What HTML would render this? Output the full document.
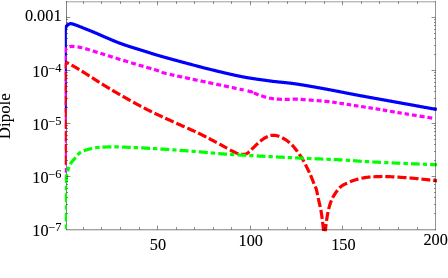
<!DOCTYPE html>
<html><head><meta charset="utf-8"><style>
html,body{margin:0;padding:0;background:#fff;}
body{width:448px;height:278px;overflow:hidden;}
svg{display:block}
text{font-family:"Liberation Serif",serif;fill:#fff;}
</style></head><body>
<svg width="448" height="278" viewBox="0 0 448 278">
<rect width="448" height="278" fill="#fff"/>
<defs><clipPath id="c"><rect x="64.8" y="1.5" width="372.5" height="229.7"/></clipPath></defs>
<path d="M66.5 1V230" stroke="#000" stroke-opacity="0.50" stroke-width="1" shape-rendering="crispEdges"/>
<g clip-path="url(#c)" fill="none" stroke-width="3.2" stroke-linejoin="round">
<path d="M65.15 112.00 L65.15 111.50 L65.15 111.00 L65.15 110.50 L65.15 110.00 L65.15 109.50 L65.15 109.00 L65.15 108.50 L65.15 108.00 L65.15 107.50 L65.15 107.00 L65.15 106.50 L65.15 106.00 L65.15 105.50 L65.15 105.00 L65.15 104.50 L65.15 104.00 L65.15 103.50 L65.15 103.00 L65.15 102.50 L65.15 102.00 L65.15 101.50 L65.15 101.00 L65.15 100.50 L65.15 100.00 L65.15 99.50 L65.15 99.00 L65.15 98.50 L65.15 98.00 L65.15 97.50 L65.15 97.00 L65.15 96.50 L65.15 96.00 L65.15 95.50 L65.15 95.00 L65.15 94.50 L65.15 94.00 L65.15 93.50 L65.15 93.00 L65.15 92.50 L65.15 92.00 L65.15 91.50 L65.15 91.00 L65.15 90.50 L65.15 90.00 L65.15 89.50 L65.15 89.00 L65.15 88.50 L65.15 88.00 L65.15 87.50 L65.15 87.00 L65.15 86.50 L65.15 86.00 L65.15 85.50 L65.15 85.00 L65.15 84.50 L65.15 84.00 L65.15 83.50 L65.15 83.00 L65.15 82.50 L65.15 82.00 L65.15 81.50 L65.15 81.00 L65.15 80.50 L65.15 80.00 L65.15 79.50 L65.15 79.00 L65.15 78.50 L65.15 78.00 L65.15 77.50 L65.15 77.00 L65.15 76.50 L65.15 76.00 L65.15 75.50 L65.15 75.00 L65.15 74.50 L65.15 74.00 L65.15 73.50 L65.15 73.00 L65.15 72.50 L65.15 72.00 L65.15 71.50 L65.15 71.00 L65.15 70.50 L65.15 70.00 L65.15 69.50 L65.15 69.00 L65.15 68.50 L65.15 68.00 L65.15 67.50 L65.15 67.00 L65.15 66.50 L65.15 66.00 L65.15 65.50 L65.15 65.00 L65.15 64.50 L65.15 64.00 L65.15 63.50 L65.15 63.00 L65.15 62.50 L65.15 62.00 L65.15 61.50 L65.15 61.00 L65.15 60.50 L65.15 60.00 L65.15 59.50 L65.15 59.00 L65.15 58.50 L65.15 58.00 L65.15 57.50 L65.15 57.00 L65.15 56.50 L65.15 56.00 L65.15 55.50 L65.15 55.00 L65.15 54.50 L65.15 54.00 L65.15 53.50 L65.15 53.00 L65.15 52.50 L65.15 52.00 L65.15 51.50 L65.15 51.00 L65.15 50.50 L65.15 50.00 L65.15 49.50 L65.15 49.00 L65.15 48.50 L65.15 48.00 L65.15 47.50 L65.15 47.00 L65.15 46.50 L65.15 46.00 L65.15 45.50 L65.15 45.00 L65.15 44.50 L65.15 44.00 L65.15 43.50 L65.15 43.00 L65.15 42.50 L65.15 42.00 L65.15 41.50 L65.15 41.00 L65.15 40.50 L65.15 40.00 L65.15 39.50 L65.15 39.00 L65.15 38.50 L65.15 38.00 L65.15 37.50 L65.15 37.00 L65.15 36.50 L65.15 36.00 L65.15 35.50 L65.15 35.00 L65.15 34.50 L65.15 34.00 L65.16 33.68 L65.18 33.26 L65.19 32.75 L65.21 32.19 L65.23 31.60 L65.26 31.02 L65.30 30.48 L65.35 30.00 L65.42 29.43 L65.51 28.88 L65.61 28.36 L65.72 27.87 L65.85 27.41 L66.00 27.00 L66.27 26.47 L66.58 26.04 L66.93 25.66 L67.30 25.30 L67.68 24.95 L68.09 24.62 L68.52 24.33 L69.00 24.10 L69.42 23.92 L69.85 23.77 L70.33 23.67 L70.94 23.66 L71.49 23.73 L71.89 23.81 L72.33 23.91 L72.80 24.04 L73.29 24.19 L73.81 24.35 L74.34 24.52 L74.88 24.71 L75.44 24.90 L76.00 25.10 L76.42 25.25 L76.82 25.40 L77.22 25.56 L77.62 25.71 L78.03 25.88 L78.45 26.05 L78.89 26.23 L79.36 26.42 L79.86 26.63 L80.41 26.86 L81.00 27.10 L81.65 27.36 L82.18 27.57 L82.55 27.72 L82.94 27.87 L83.35 28.03 L83.77 28.20 L84.20 28.37 L84.65 28.54 L85.10 28.72 L85.57 28.90 L86.04 29.09 L86.53 29.28 L87.02 29.47 L87.51 29.67 L88.01 29.87 L88.52 30.07 L89.03 30.27 L89.54 30.47 L90.05 30.67 L90.56 30.88 L91.07 31.08 L91.57 31.29 L92.08 31.49 L92.58 31.70 L93.07 31.90 L93.56 32.10 L94.03 32.29 L94.48 32.48 L94.93 32.68 L95.39 32.87 L95.84 33.06 L96.29 33.26 L96.75 33.46 L97.20 33.65 L97.66 33.85 L98.11 34.05 L98.57 34.25 L99.02 34.45 L99.48 34.65 L99.94 34.86 L100.40 35.06 L100.86 35.26 L101.32 35.47 L101.78 35.67 L102.25 35.87 L102.71 36.08 L103.18 36.28 L103.64 36.49 L104.11 36.69 L104.58 36.89 L105.05 37.10 L105.53 37.30 L106.00 37.50 L106.45 37.69 L106.90 37.89 L107.36 38.08 L107.82 38.28 L108.28 38.47 L108.74 38.67 L109.20 38.87 L109.67 39.07 L110.13 39.27 L110.60 39.47 L111.07 39.67 L111.54 39.87 L112.01 40.06 L112.47 40.26 L112.94 40.46 L113.41 40.66 L113.88 40.85 L114.35 41.05 L114.82 41.24 L115.29 41.43 L115.76 41.62 L116.23 41.81 L116.69 42.00 L117.16 42.19 L117.62 42.37 L118.08 42.55 L118.54 42.73 L119.00 42.90 L119.48 43.08 L119.96 43.26 L120.45 43.44 L120.93 43.61 L121.41 43.79 L121.88 43.96 L122.36 44.13 L122.84 44.29 L123.32 44.46 L123.79 44.63 L124.27 44.79 L124.74 44.95 L125.22 45.11 L125.69 45.27 L126.17 45.43 L126.64 45.58 L127.11 45.74 L127.59 45.90 L128.06 46.05 L128.53 46.21 L129.00 46.36 L129.48 46.51 L129.95 46.67 L130.42 46.82 L130.89 46.97 L131.36 47.12 L131.85 47.28 L132.34 47.44 L132.83 47.59 L133.32 47.75 L133.81 47.90 L134.30 48.05 L134.78 48.20 L135.27 48.35 L135.76 48.50 L136.25 48.65 L136.74 48.80 L137.23 48.95 L137.72 49.09 L138.20 49.24 L138.69 49.39 L139.18 49.53 L139.66 49.68 L140.15 49.82 L140.63 49.97 L141.11 50.12 L141.60 50.26 L142.08 50.41 L142.56 50.56 L143.04 50.70 L143.52 50.85 L144.00 51.00 L144.49 51.15 L144.97 51.31 L145.46 51.46 L145.94 51.61 L146.43 51.77 L146.91 51.92 L147.39 52.08 L147.87 52.23 L148.35 52.38 L148.83 52.54 L149.31 52.69 L149.79 52.85 L150.26 53.00 L150.74 53.16 L151.22 53.31 L151.70 53.46 L152.17 53.61 L152.65 53.77 L153.13 53.92 L153.61 54.07 L154.08 54.21 L154.56 54.36 L155.04 54.51 L155.52 54.66 L156.00 54.80 L156.48 54.94 L156.94 55.08 L157.38 55.21 L157.81 55.34 L158.23 55.46 L158.64 55.58 L159.04 55.70 L159.44 55.82 L159.84 55.93 L160.25 56.05 L160.65 56.16 L161.07 56.28 L161.50 56.40 L161.93 56.53 L162.39 56.65 L162.86 56.78 L163.35 56.92 L163.87 57.06 L164.42 57.22 L164.99 57.37 L165.59 57.54 L166.23 57.72 L166.91 57.90 L167.63 58.10 L168.18 58.25 L168.55 58.35 L168.92 58.45 L169.31 58.56 L169.70 58.67 L170.11 58.78 L170.52 58.89 L170.94 59.00 L171.36 59.12 L171.80 59.24 L172.24 59.36 L172.69 59.48 L173.14 59.61 L173.60 59.73 L174.07 59.86 L174.54 59.99 L175.02 60.12 L175.50 60.25 L175.99 60.38 L176.48 60.52 L176.98 60.65 L177.48 60.79 L177.98 60.93 L178.49 61.06 L179.00 61.20 L179.52 61.34 L180.03 61.48 L180.55 61.62 L181.07 61.76 L181.60 61.90 L182.12 62.05 L182.64 62.19 L183.17 62.33 L183.70 62.47 L184.22 62.61 L184.75 62.76 L185.28 62.90 L185.80 63.04 L186.33 63.18 L186.85 63.32 L187.38 63.46 L187.90 63.60 L188.42 63.74 L188.93 63.87 L189.45 64.01 L189.96 64.15 L190.47 64.28 L190.97 64.41 L191.48 64.55 L191.97 64.68 L192.47 64.81 L192.96 64.94 L193.44 65.06 L193.93 65.19 L194.41 65.32 L194.90 65.44 L195.38 65.57 L195.87 65.70 L196.35 65.82 L196.83 65.95 L197.32 66.08 L197.80 66.20 L198.29 66.33 L198.77 66.46 L199.26 66.58 L199.74 66.71 L200.23 66.84 L200.71 66.96 L201.20 67.09 L201.68 67.21 L202.17 67.34 L202.65 67.46 L203.13 67.59 L203.62 67.71 L204.10 67.84 L204.59 67.96 L205.07 68.09 L205.56 68.21 L206.04 68.34 L206.53 68.46 L207.01 68.58 L207.50 68.71 L207.98 68.83 L208.47 68.95 L208.95 69.08 L209.43 69.20 L209.92 69.32 L210.40 69.44 L210.89 69.56 L211.37 69.68 L211.86 69.81 L212.34 69.93 L212.83 70.05 L213.31 70.17 L213.80 70.29 L214.28 70.40 L214.77 70.52 L215.25 70.64 L215.73 70.76 L216.22 70.88 L216.70 70.99 L217.19 71.11 L217.67 71.23 L218.16 71.34 L218.64 71.46 L219.13 71.57 L219.62 71.69 L220.11 71.81 L220.60 71.92 L221.09 72.04 L221.58 72.16 L222.07 72.27 L222.56 72.39 L223.05 72.51 L223.54 72.62 L224.03 72.74 L224.52 72.86 L225.01 72.97 L225.50 73.09 L225.98 73.20 L226.47 73.32 L226.96 73.43 L227.45 73.55 L227.94 73.66 L228.43 73.77 L228.92 73.89 L229.41 74.00 L229.90 74.11 L230.39 74.22 L230.88 74.33 L231.37 74.45 L231.86 74.56 L232.35 74.67 L232.83 74.78 L233.32 74.88 L233.81 74.99 L234.30 75.10 L234.79 75.21 L235.28 75.31 L235.77 75.42 L236.26 75.52 L236.75 75.63 L237.24 75.73 L237.73 75.84 L238.22 75.94 L238.71 76.04 L239.20 76.14 L239.69 76.24 L240.17 76.34 L240.66 76.43 L241.15 76.53 L241.64 76.63 L242.13 76.72 L242.62 76.82 L243.11 76.91 L243.60 77.00 L244.10 77.09 L244.61 77.19 L245.12 77.28 L245.64 77.37 L246.16 77.46 L246.68 77.55 L247.21 77.64 L247.74 77.73 L248.27 77.82 L248.81 77.91 L249.35 77.99 L249.89 78.08 L250.43 78.17 L250.97 78.25 L251.52 78.34 L252.06 78.42 L252.61 78.51 L253.15 78.59 L253.70 78.67 L254.24 78.75 L254.79 78.83 L255.33 78.91 L255.87 78.99 L256.41 79.07 L256.94 79.15 L257.47 79.23 L258.00 79.30 L258.53 79.38 L259.05 79.45 L259.57 79.52 L260.09 79.60 L260.60 79.67 L261.10 79.74 L261.60 79.81 L262.10 79.88 L262.59 79.94 L263.07 80.01 L263.54 80.08 L264.01 80.14 L264.47 80.20 L264.93 80.27 L265.37 80.33 L265.81 80.39 L266.24 80.45 L266.66 80.50 L267.07 80.56 L267.47 80.62 L267.87 80.67 L268.25 80.72 L268.62 80.77 L269.20 80.86 L269.95 80.96 L270.65 81.05 L271.31 81.14 L271.92 81.22 L272.50 81.29 L273.03 81.36 L273.54 81.42 L274.02 81.47 L274.47 81.53 L274.91 81.57 L275.33 81.62 L275.74 81.66 L276.13 81.70 L276.53 81.74 L276.92 81.78 L277.32 81.82 L277.73 81.86 L278.14 81.90 L278.57 81.95 L279.03 81.99 L279.50 82.04 L280.00 82.10 L280.48 82.15 L280.97 82.21 L281.45 82.26 L281.94 82.31 L282.43 82.36 L282.92 82.41 L283.41 82.46 L283.90 82.51 L284.39 82.56 L284.88 82.61 L285.38 82.66 L285.88 82.71 L286.37 82.76 L286.87 82.81 L287.38 82.86 L287.88 82.91 L288.39 82.97 L288.90 83.03 L289.41 83.08 L289.92 83.14 L290.44 83.20 L290.96 83.27 L291.48 83.33 L292.00 83.40 L292.47 83.46 L292.93 83.52 L293.37 83.58 L293.81 83.64 L294.24 83.70 L294.67 83.76 L295.09 83.81 L295.51 83.87 L295.94 83.93 L296.36 83.99 L296.79 84.05 L297.22 84.12 L297.66 84.18 L298.11 84.25 L298.57 84.32 L299.05 84.39 L299.53 84.47 L300.04 84.55 L300.56 84.63 L301.10 84.72 L301.66 84.81 L302.24 84.91 L302.85 85.01 L303.49 85.11 L304.15 85.22 L304.84 85.34 L305.39 85.43 L305.77 85.50 L306.17 85.56 L306.57 85.63 L306.98 85.70 L307.40 85.78 L307.83 85.85 L308.26 85.92 L308.71 86.00 L309.15 86.08 L309.61 86.16 L310.07 86.24 L310.54 86.32 L311.01 86.40 L311.49 86.49 L311.98 86.57 L312.46 86.66 L312.96 86.74 L313.46 86.83 L313.96 86.92 L314.47 87.01 L314.98 87.10 L315.49 87.19 L316.01 87.28 L316.53 87.38 L317.05 87.47 L317.57 87.56 L318.10 87.66 L318.63 87.75 L319.16 87.85 L319.69 87.94 L320.22 88.04 L320.76 88.13 L321.29 88.23 L321.82 88.33 L322.36 88.42 L322.89 88.52 L323.42 88.62 L323.95 88.71 L324.48 88.81 L325.01 88.91 L325.54 89.00 L326.06 89.10 L326.58 89.19 L327.10 89.29 L327.62 89.38 L328.13 89.48 L328.64 89.57 L329.15 89.67 L329.65 89.76 L330.15 89.85 L330.65 89.95 L331.14 90.04 L331.64 90.13 L332.13 90.23 L332.62 90.32 L333.12 90.41 L333.61 90.51 L334.11 90.60 L334.60 90.70 L335.09 90.79 L335.59 90.89 L336.08 90.98 L336.58 91.08 L337.07 91.18 L337.56 91.27 L338.06 91.37 L338.55 91.47 L339.05 91.56 L339.54 91.66 L340.04 91.76 L340.53 91.86 L341.02 91.95 L341.52 92.05 L342.01 92.15 L342.51 92.25 L343.00 92.34 L343.49 92.44 L343.99 92.54 L344.48 92.64 L344.98 92.73 L345.47 92.83 L345.96 92.93 L346.46 93.03 L346.95 93.13 L347.45 93.22 L347.94 93.32 L348.44 93.42 L348.93 93.51 L349.42 93.61 L349.92 93.71 L350.41 93.80 L350.91 93.90 L351.40 94.00 L351.89 94.09 L352.39 94.19 L352.88 94.28 L353.38 94.38 L353.87 94.47 L354.36 94.57 L354.86 94.66 L355.35 94.75 L355.85 94.85 L356.35 94.94 L356.85 95.04 L357.36 95.13 L357.87 95.23 L358.39 95.32 L358.91 95.42 L359.44 95.52 L359.96 95.61 L360.49 95.71 L361.02 95.81 L361.56 95.91 L362.09 96.01 L362.63 96.11 L363.17 96.20 L363.71 96.30 L364.25 96.40 L364.79 96.50 L365.33 96.60 L365.87 96.70 L366.41 96.80 L366.94 96.89 L367.48 96.99 L368.01 97.09 L368.55 97.19 L369.08 97.28 L369.60 97.38 L370.13 97.47 L370.65 97.57 L371.16 97.66 L371.68 97.75 L372.19 97.84 L372.69 97.94 L373.19 98.03 L373.68 98.11 L374.17 98.20 L374.65 98.29 L375.13 98.38 L375.60 98.46 L376.06 98.54 L376.52 98.63 L376.97 98.71 L377.41 98.79 L377.84 98.87 L378.27 98.94 L378.68 99.02 L379.09 99.09 L379.49 99.16 L379.88 99.23 L380.25 99.30 L380.62 99.37 L381.19 99.47 L381.88 99.60 L382.47 99.70 L382.98 99.79 L383.40 99.87 L383.76 99.93 L384.06 99.99 L384.33 100.03 L384.56 100.07 L384.79 100.11 L385.00 100.15 L385.23 100.19 L385.49 100.24 L385.77 100.29 L386.11 100.34 L386.50 100.41 L386.97 100.50 L387.52 100.60 L388.17 100.71 L388.93 100.85 L389.82 101.01 L390.83 101.19 L392.00 101.40 L392.31 101.46 L392.64 101.52 L392.98 101.58 L393.34 101.64 L393.70 101.71 L394.08 101.78 L394.47 101.85 L394.87 101.92 L395.28 101.99 L395.70 102.07 L396.13 102.15 L396.58 102.23 L397.03 102.31 L397.49 102.39 L397.96 102.48 L398.44 102.56 L398.93 102.65 L399.43 102.74 L399.93 102.83 L400.44 102.92 L400.96 103.02 L401.49 103.11 L402.02 103.21 L402.56 103.31 L403.11 103.41 L403.66 103.51 L404.21 103.61 L404.78 103.71 L405.34 103.81 L405.91 103.91 L406.49 104.02 L407.07 104.12 L407.65 104.23 L408.23 104.33 L408.82 104.44 L409.41 104.55 L410.01 104.65 L410.60 104.76 L411.20 104.87 L411.80 104.98 L412.40 105.09 L413.00 105.19 L413.60 105.30 L414.20 105.41 L414.80 105.52 L415.40 105.63 L416.00 105.74 L416.60 105.85 L417.19 105.95 L417.79 106.06 L418.38 106.17 L418.97 106.28 L419.56 106.38 L420.14 106.49 L420.72 106.59 L421.30 106.70 L421.88 106.80 L422.45 106.90 L423.01 107.01 L423.57 107.11 L424.13 107.21 L424.67 107.31 L425.22 107.41 L425.75 107.50 L426.29 107.60 L426.81 107.69 L427.33 107.79 L427.84 107.88 L428.34 107.97 L428.83 108.06 L429.32 108.15 L429.79 108.23 L430.26 108.32 L430.72 108.40 L431.17 108.48 L431.61 108.56 L432.04 108.64 L432.46 108.71 L432.86 108.79 L433.26 108.86 L433.65 108.93 L434.02 109.00 L434.38 109.06 L434.73 109.13 L435.07 109.19 L435.39 109.24 L435.70 109.30 L436.00 109.35 L436.28 109.41 L436.55 109.45 L436.80 109.50" stroke="#0000ff"/>
<path d="M65.15 179.40 L65.15 178.65 L65.15 177.90 L65.15 177.15 L65.15 176.40 L65.15 175.65 M65.15 172.64 L65.15 171.89 L65.15 171.14 L65.15 170.39 L65.15 169.64 L65.15 168.89 L65.15 168.14 L65.15 167.89 M65.15 165.13 L65.15 164.38 L65.15 163.63 L65.15 162.88 L65.15 162.13 L65.15 161.38 L65.15 160.63 M65.15 157.87 L65.15 157.12 L65.15 156.37 L65.15 155.62 L65.15 154.87 L65.15 154.12 L65.15 153.37 L65.15 153.12 M65.15 150.37 L65.15 149.61 L65.15 148.86 L65.15 148.11 L65.15 147.36 L65.15 146.61 L65.15 145.86 L65.15 145.61 M65.15 142.86 L65.15 142.11 L65.15 141.35 L65.15 140.60 L65.15 139.85 L65.15 139.10 L65.15 138.35 L65.15 138.10 M65.15 135.35 L65.15 134.60 L65.15 133.85 L65.15 133.09 L65.15 132.34 L65.15 131.59 L65.15 130.84 M65.15 128.09 L65.15 127.34 L65.15 126.59 L65.15 125.84 L65.15 125.09 L65.15 124.33 L65.15 123.58 L65.15 123.33 M65.15 120.58 L65.15 119.83 L65.15 119.08 L65.15 118.33 L65.15 117.58 L65.15 116.83 L65.15 116.07 L65.15 115.82 M65.15 113.07 L65.15 112.32 L65.15 111.57 L65.15 110.82 L65.15 110.07 L65.15 109.32 L65.15 108.57 L65.15 108.31 M65.15 105.56 L65.15 104.81 L65.15 104.06 L65.15 103.31 L65.15 102.56 L65.15 101.81 L65.15 101.06 L65.15 100.81 M65.15 98.05 L65.15 97.30 L65.15 96.55 L65.15 95.80 L65.15 95.05 L65.15 94.30 L65.15 93.55 L65.15 93.30 M65.15 90.54 L65.15 89.79 L65.15 89.04 L65.15 88.29 L65.15 87.54 L65.15 86.79 L65.15 86.04 L65.15 85.79 M65.15 83.03 L65.15 82.28 L65.15 81.53 L65.15 80.78 L65.15 80.03 L65.15 79.28 L65.15 78.53 M65.15 75.53 L65.15 74.77 L65.15 74.02 L65.15 73.27 L65.15 72.52 L65.15 71.77 L65.15 71.02 M65.15 68.02 L65.15 67.27 L65.15 66.51 L65.15 65.76 L65.15 65.01 L65.15 64.26 L65.15 63.51 M65.15 60.51 L65.15 59.76 L65.15 59.01 L65.15 58.26 L65.15 57.50 L65.15 56.75 L65.15 56.00 L65.15 55.50 M65.22 52.65 L65.29 51.78 L65.40 51.00 L65.58 50.21 L65.82 49.47 L66.15 48.80 L66.63 48.23 L66.81 48.06 M69.49 46.74 L70.16 46.55 L70.96 46.43 L71.99 46.39 L72.77 46.42 L73.37 46.45 L74.02 46.50 L74.47 46.54 M77.50 46.91 L78.32 47.04 L79.17 47.19 L80.03 47.35 L80.91 47.54 L81.62 47.70 L82.27 47.85 M85.25 48.65 L85.96 48.86 L86.69 49.08 L87.43 49.30 L88.17 49.52 L88.92 49.75 L89.68 49.98 L89.93 50.06 M92.74 50.92 L93.44 51.13 L94.09 51.33 L94.73 51.53 L95.35 51.72 L95.96 51.91 L96.57 52.10 L97.18 52.30 L97.60 52.43 M100.44 53.33 L101.16 53.56 L101.92 53.80 L102.72 54.05 L103.56 54.32 L104.45 54.60 L105.08 54.79 M107.94 55.67 L108.54 55.86 L109.17 56.05 L109.81 56.25 L110.46 56.45 L111.13 56.66 L111.81 56.87 L112.51 57.08 L112.74 57.15 M115.63 58.04 L116.37 58.27 L117.13 58.50 L117.88 58.73 L118.64 58.97 L119.41 59.20 L120.18 59.44 L120.44 59.52 M123.28 60.38 L124.06 60.62 L124.83 60.86 L125.60 61.09 L126.37 61.32 L127.14 61.56 L127.90 61.79 L128.15 61.86 M131.12 62.76 L131.84 62.97 L132.57 63.19 L133.30 63.41 L134.05 63.63 L134.80 63.85 L135.55 64.08 L135.81 64.15 M138.62 64.98 L139.39 65.21 L140.17 65.43 L140.94 65.66 L141.72 65.88 L142.49 66.11 L143.26 66.34 L143.52 66.41 M146.31 67.22 L147.05 67.44 L147.79 67.66 L148.53 67.87 L149.25 68.08 L149.97 68.29 L150.67 68.50 L151.37 68.70 M154.02 69.48 L154.64 69.66 L155.25 69.84 L155.85 70.02 L156.43 70.19 L157.13 70.40 L157.97 70.67 L158.63 70.89 L158.98 71.02 M161.58 72.26 L162.18 72.45 L162.94 72.67 L163.92 72.93 L165.13 73.24 L166.61 73.60 M169.76 74.33 L170.80 74.57 L171.25 74.67 L171.73 74.78 L172.22 74.89 L172.73 75.00 L173.26 75.12 L173.81 75.24 L174.37 75.36 M177.18 75.97 L177.83 76.11 L178.49 76.26 L179.16 76.40 L179.84 76.55 L180.54 76.70 L181.25 76.85 L181.97 77.00 L182.21 77.06 M184.95 77.64 L185.73 77.80 L186.51 77.97 L187.30 78.14 L188.10 78.31 L188.90 78.48 L189.72 78.65 L189.99 78.71 M192.77 79.30 L193.62 79.47 L194.47 79.65 L195.33 79.83 L196.19 80.02 L197.06 80.20 L197.64 80.32 M200.56 80.93 L201.45 81.12 L202.33 81.31 L203.22 81.49 L204.11 81.68 L205.00 81.86 L205.60 81.99 M208.27 82.55 L209.16 82.74 L210.05 82.92 L210.94 83.11 L211.83 83.29 L212.72 83.48 L213.30 83.60 M216.23 84.21 L217.09 84.39 L217.96 84.58 L218.82 84.76 L219.67 84.93 L220.52 85.11 L221.08 85.23 M223.85 85.81 L224.66 85.98 L225.47 86.15 L226.27 86.32 L227.06 86.48 L227.84 86.65 L228.61 86.81 L228.86 86.86 M231.84 87.49 L232.55 87.64 L233.25 87.79 L233.94 87.93 L234.62 88.08 L235.29 88.22 L235.94 88.35 L236.58 88.49 M239.55 89.12 L240.10 89.24 L240.63 89.36 L241.15 89.47 L241.65 89.57 L242.13 89.68 L242.59 89.78 L243.04 89.88 L243.46 89.97 L243.60 90.00 M247.55 90.88 L249.52 91.33 L250.79 91.64 L251.50 91.83 L251.78 91.94 L251.77 91.99 L251.60 92.01 L251.40 92.04 M253.86 93.05 L254.56 93.31 L255.27 93.58 L255.99 93.86 L256.70 94.14 L257.42 94.41 L258.14 94.69 L258.62 94.87 M261.24 95.78 L261.97 96.01 L262.70 96.24 L263.43 96.47 L264.16 96.70 L264.89 96.92 L265.62 97.13 L266.11 97.27 M269.03 98.00 L269.76 98.15 L270.50 98.29 L271.25 98.42 L272.00 98.54 L272.75 98.65 L273.50 98.74 L274.00 98.80 M276.75 99.05 L277.50 99.10 L278.25 99.15 L279.00 99.20 L279.75 99.24 L280.49 99.27 L281.24 99.29 L281.98 99.31 M284.71 99.32 L285.46 99.31 L286.21 99.31 L286.97 99.30 L287.74 99.30 L288.49 99.30 L289.25 99.29 L289.76 99.29 M292.64 99.23 L293.42 99.21 L294.20 99.20 L294.96 99.19 L295.71 99.19 L296.44 99.18 L297.15 99.19 L297.88 99.21 M300.60 99.33 L301.23 99.39 L302.04 99.45 L303.10 99.54 L304.46 99.66 L305.33 99.73 L305.68 99.75 M308.64 99.97 L309.31 100.02 L310.00 100.07 L310.71 100.12 L311.43 100.17 L312.17 100.23 L312.93 100.28 L313.70 100.34 M316.63 100.56 L317.45 100.62 L318.28 100.69 L319.11 100.75 L319.95 100.82 L320.78 100.89 L321.62 100.96 M324.40 101.21 L325.23 101.29 L326.05 101.37 L326.86 101.45 L327.66 101.54 L328.45 101.62 L329.23 101.71 L329.49 101.74 M332.22 102.08 L332.96 102.17 L333.70 102.27 L334.44 102.37 L335.19 102.48 L335.93 102.59 L336.68 102.69 M339.42 103.11 L340.17 103.22 L340.91 103.34 L341.66 103.46 L342.41 103.58 L343.16 103.70 L343.91 103.82 M346.66 104.27 L347.41 104.39 L348.15 104.51 L348.90 104.63 L349.65 104.75 L350.40 104.88 L351.14 105.00 M353.87 105.43 L354.61 105.55 L355.35 105.66 L356.11 105.78 L356.87 105.90 L357.65 106.01 L358.44 106.13 M361.11 106.54 L361.92 106.67 L362.73 106.79 L363.55 106.92 L364.37 107.04 L365.18 107.17 L365.73 107.25 M368.43 107.67 L369.23 107.79 L370.03 107.91 L370.81 108.03 L371.59 108.15 L372.36 108.27 L372.87 108.35 M375.55 108.77 L376.25 108.88 L376.93 108.98 L377.60 109.09 L378.24 109.19 L378.87 109.29 L379.47 109.39 L380.06 109.48 L380.25 109.51 M382.77 109.93 L383.47 110.05 L384.03 110.15 L384.50 110.24 L384.90 110.32 L385.27 110.40 L385.66 110.48 L386.10 110.57 L386.64 110.67 L387.30 110.79 M389.98 111.26 L391.45 111.51 L392.32 111.65 L392.84 111.74 L393.38 111.83 L393.95 111.92 L394.55 112.02 L394.76 112.05 M397.43 112.49 L398.16 112.61 L398.90 112.73 L399.67 112.85 L400.45 112.98 L401.25 113.11 L401.79 113.20 M404.57 113.65 L405.43 113.79 L406.30 113.93 L407.17 114.07 L408.05 114.21 L408.94 114.35 M411.92 114.84 L412.81 114.98 L413.70 115.12 L414.59 115.27 L415.48 115.41 L416.36 115.55 L416.65 115.60 M419.52 116.06 L420.36 116.20 L421.19 116.33 L422.00 116.46 L422.80 116.59 L423.59 116.72 L424.35 116.84 L424.61 116.88 M427.45 117.34 L428.10 117.44 L428.73 117.54 L429.34 117.64 L429.91 117.73 L430.46 117.82 L430.98 117.90 L431.46 117.98 L431.92 118.05 L432.20 118.10" stroke="#ff00ff"/>
<path d="M65.15 164.60 L65.15 163.85 L65.15 163.10 L65.15 162.35 L65.15 161.60 L65.15 160.85 L65.15 160.10 L65.15 159.34 L65.15 158.59 L65.15 157.84 L65.15 157.09 L65.15 156.34 L65.15 155.84 M65.15 153.09 L65.15 152.34 L65.15 151.59 L65.15 150.84 L65.15 150.09 L65.15 149.33 L65.15 148.58 L65.15 147.83 L65.15 147.08 L65.15 146.33 L65.15 145.58 L65.15 144.83 L65.15 144.08 L65.15 143.83 M65.15 141.08 L65.15 140.33 L65.15 139.57 L65.15 138.82 L65.15 138.07 L65.15 137.32 L65.15 136.57 L65.15 135.82 L65.15 135.07 L65.15 134.32 L65.15 133.57 L65.15 132.82 L65.15 132.07 L65.15 131.82 M65.15 129.06 L65.15 128.31 L65.15 127.56 L65.15 126.81 L65.15 126.06 L65.15 125.31 L65.15 124.56 L65.15 123.81 L65.15 123.06 L65.15 122.31 L65.15 121.56 L65.15 120.81 L65.15 120.06 L65.15 119.80 M65.15 117.05 L65.15 116.30 L65.15 115.55 L65.15 114.80 L65.15 114.05 L65.15 113.30 L65.15 112.55 L65.15 111.80 L65.15 111.05 L65.15 110.30 L65.15 109.54 L65.15 108.79 L65.15 108.04 M65.15 105.04 L65.15 104.29 L65.15 103.54 L65.15 102.79 L65.15 102.04 L65.15 101.29 L65.15 100.54 L65.15 99.78 L65.15 99.03 L65.15 98.28 L65.15 97.53 L65.15 96.78 L65.15 96.03 M65.15 93.03 L65.15 92.28 L65.15 91.53 L65.15 90.78 L65.15 90.02 L65.15 89.27 L65.15 88.52 L65.15 87.77 L65.15 87.02 L65.15 86.27 L65.15 85.52 L65.15 84.77 L65.15 84.02 M65.15 81.02 L65.15 80.26 L65.15 79.51 L65.15 78.76 L65.15 78.01 L65.15 77.26 L65.15 76.51 L65.15 75.76 L65.15 75.01 L65.15 74.26 L65.15 73.51 L65.15 72.76 L65.15 72.01 M65.15 69.00 L65.15 68.25 L65.15 67.50 L65.15 66.75 L65.15 66.00 L65.18 65.33 L65.31 64.50 L65.66 63.78 L66.31 63.28 L66.79 63.03 L67.03 62.83 L68.60 63.50 L68.86 63.63 M71.49 65.06 L72.04 65.37 L72.63 65.70 L73.24 66.05 L73.88 66.42 L74.56 66.82 L75.27 67.23 L76.01 67.67 L76.78 68.13 L77.59 68.61 L78.44 69.12 L79.32 69.65 M81.69 71.10 L82.19 71.41 L82.71 71.73 L83.24 72.07 L83.79 72.41 L84.35 72.76 L84.93 73.13 L85.51 73.50 L86.12 73.88 L86.73 74.27 L87.35 74.66 L87.98 75.07 L88.62 75.48 L89.27 75.89 L89.49 76.03 M91.93 77.59 L92.61 78.02 L93.29 78.46 L93.97 78.90 L94.66 79.34 L95.35 79.78 L96.04 80.22 L96.73 80.66 L97.42 81.09 L98.11 81.53 L98.79 81.97 L99.48 82.40 M101.95 83.95 L102.61 84.36 L103.26 84.77 L103.91 85.17 L104.54 85.57 L105.17 85.95 L105.79 86.33 L106.40 86.70 L107.09 87.12 L107.77 87.53 L108.46 87.94 L109.13 88.35 L109.81 88.75 M112.27 90.22 L112.94 90.61 L113.60 91.00 L114.26 91.39 L114.92 91.77 L115.57 92.16 L116.23 92.54 L116.88 92.92 L117.53 93.29 L118.18 93.67 L118.83 94.04 L119.47 94.41 L120.11 94.78 M122.67 96.24 L123.31 96.60 L123.95 96.96 L124.58 97.32 L125.22 97.68 L125.85 98.04 L126.48 98.39 L127.11 98.74 L127.74 99.10 L128.37 99.45 L129.00 99.80 L129.68 100.18 L130.36 100.56 L130.59 100.68 M133.24 102.15 L133.89 102.51 L134.53 102.87 L135.18 103.23 L135.82 103.58 L136.46 103.93 L137.10 104.28 L137.74 104.62 L138.38 104.97 L139.02 105.32 L139.66 105.66 L140.30 106.00 L140.94 106.35 L141.16 106.46 M143.77 107.84 L144.44 108.18 L145.11 108.53 L145.78 108.87 L146.47 109.22 L147.16 109.57 L147.85 109.93 L148.56 110.28 L149.28 110.64 L150.00 111.00 L150.63 111.31 L151.26 111.62 L151.90 111.93 M154.51 113.19 L155.17 113.50 L155.84 113.82 L156.51 114.13 L157.18 114.45 L157.86 114.77 L158.54 115.09 L159.23 115.40 L159.92 115.72 L160.60 116.04 L161.30 116.36 L161.99 116.68 L162.69 117.00 M165.24 118.17 L165.94 118.49 L166.64 118.80 L167.34 119.12 L168.04 119.44 L168.74 119.76 L169.44 120.08 L170.14 120.39 L170.84 120.71 L171.53 121.02 L172.22 121.34 L172.91 121.66 L173.60 121.97 M176.35 123.22 L177.03 123.53 L177.72 123.84 L178.40 124.15 L179.09 124.46 L179.78 124.76 L180.46 125.07 L181.15 125.37 L181.83 125.67 L182.52 125.98 L183.20 126.28 L183.89 126.58 L184.58 126.88 M187.32 128.09 L188.00 128.39 L188.69 128.69 L189.38 129.00 L190.06 129.30 L190.75 129.61 L191.44 129.92 L192.12 130.22 L192.81 130.54 L193.50 130.85 L194.19 131.16 L194.88 131.48 L195.56 131.80 M198.09 132.99 L198.79 133.32 L199.48 133.65 L200.17 133.99 L200.84 134.32 L201.52 134.65 L202.21 135.00 L202.92 135.35 L203.63 135.71 L204.35 136.08 L205.08 136.45 L205.82 136.83 L206.31 137.09 M208.81 138.39 L209.57 138.79 L210.32 139.19 L211.08 139.59 L211.83 139.99 L212.58 140.38 L213.33 140.78 L214.07 141.18 L214.80 141.57 L215.53 141.96 L216.25 142.35 L216.73 142.60 M219.46 144.08 L220.12 144.43 L220.75 144.77 L221.37 145.11 L221.97 145.43 L222.55 145.75 L223.11 146.05 L223.65 146.34 L224.17 146.62 L224.67 146.89 L225.14 147.14 L225.58 147.38 L226.00 147.60 L227.16 148.22 M229.96 149.79 L230.26 149.97 L230.52 150.13 L230.86 150.32 L231.40 150.60 L232.10 150.96 L232.81 151.32 L233.51 151.67 L234.22 152.01 L234.92 152.34 L235.63 152.65 L236.33 152.93 L237.05 153.19 L237.80 153.44 L238.30 153.60 M241.05 154.26 L241.75 154.36 L242.48 154.41 L243.32 154.40 L244.13 154.32 L244.90 154.18 L245.62 154.00 L246.29 153.78 L246.99 153.48 L247.60 153.10 L248.15 152.65 L248.74 152.11 L249.36 151.56 M251.39 149.59 L251.96 149.01 L252.57 148.41 L253.16 147.85 L253.66 147.36 L254.19 146.85 L254.74 146.31 L255.31 145.76 L255.89 145.21 L256.48 144.65 L257.06 144.11 L257.64 143.57 L258.02 143.23 M260.20 141.34 L260.81 140.84 L261.41 140.35 L262.01 139.88 L262.61 139.43 L263.20 139.00 L263.80 138.60 L264.50 138.16 L265.21 137.75 L265.92 137.37 L266.63 137.02 L267.33 136.70 L267.78 136.50 M270.44 135.61 L271.19 135.46 L271.94 135.36 L272.70 135.31 L273.50 135.30 L274.21 135.32 L274.93 135.36 L275.66 135.44 L276.41 135.56 L277.17 135.72 L277.96 135.93 L278.71 136.17 L279.37 136.42 M282.15 137.74 L282.85 138.11 L283.53 138.49 L284.19 138.87 L284.85 139.27 L285.52 139.68 L286.16 140.09 L286.80 140.51 L287.42 140.95 L288.04 141.41 L288.67 141.90 L289.29 142.42 L289.68 142.76 M291.86 144.79 L292.37 145.33 L292.91 145.91 L293.47 146.56 L294.07 147.27 L294.63 147.96 L295.03 148.46 L295.45 149.00 L295.89 149.57 L296.34 150.17 L296.81 150.79 L297.29 151.43 L297.45 151.65 M299.22 154.09 L299.69 154.76 L300.15 155.42 L300.59 156.07 L301.02 156.70 L301.42 157.31 L301.80 157.90 L302.24 158.61 L302.66 159.30 L303.05 159.98 L303.43 160.65 L303.78 161.31 L304.01 161.75 M305.42 164.54 L305.74 165.19 L306.07 165.84 L306.40 166.50 L306.75 167.18 L307.09 167.86 L307.43 168.54 L307.77 169.22 L308.11 169.90 L308.45 170.58 L308.78 171.26 L309.11 171.95 L309.43 172.63 M310.60 175.20 L310.90 175.89 L311.20 176.60 L311.50 177.33 L311.80 178.08 L312.09 178.83 L312.39 179.58 L312.68 180.32 L312.96 181.05 L313.23 181.77 L313.50 182.46 L313.75 183.12 L314.00 183.74 M315.20 186.54 L315.47 187.13 L315.73 187.71 L315.98 188.33 L316.23 189.04 L316.46 189.80 L316.62 190.42 L316.77 191.04 L316.91 191.67 L317.05 192.33 L317.19 193.02 L317.33 193.75 L317.48 194.53 L317.59 195.08 M318.19 197.99 L318.32 198.61 L318.46 199.25 L318.62 199.92 L318.78 200.61 L318.94 201.32 L319.11 202.06 L319.28 202.81 L319.46 203.57 L319.63 204.34 L319.81 205.13 L319.98 205.92 L320.16 206.72 L320.22 206.99 M320.82 209.92 L320.97 210.70 L321.11 211.49 L321.24 212.24 L321.36 212.99 L321.48 213.74 L321.60 214.51 L321.71 215.28 L321.82 216.07 L321.93 216.85 L322.04 217.64 L322.14 218.43 L322.20 218.96 M322.55 221.83 L322.64 222.59 L322.73 223.34 L322.82 224.08 L322.90 224.81 L322.99 225.51 L323.07 226.20 L323.15 226.87 L323.24 227.60 L323.34 228.51 L323.45 229.42 L323.54 230.33 L323.61 230.92 M323.89 233.74 L323.97 234.51 L324.05 235.24 L324.12 235.92 L324.20 236.54 L324.27 237.10 L324.33 237.59 L324.40 238.00 L325.11 237.87 L325.15 237.42 L325.19 236.89 L325.21 236.29 L325.23 235.86 M325.32 233.05 L325.35 232.19 L325.39 231.31 L325.44 230.40 L325.50 229.47 L325.58 228.54 L325.67 227.61 L325.75 226.87 L325.83 226.19 L325.91 225.49 L326.00 224.76 L326.10 224.01 M326.52 220.87 L326.63 220.06 L326.75 219.25 L326.87 218.45 L327.00 217.64 L327.13 216.85 L327.25 216.07 L327.38 215.30 L327.51 214.55 L327.65 213.82 L327.78 213.11 L327.91 212.44 L328.00 212.00 M328.63 209.18 L328.83 208.38 L329.03 207.61 L329.23 206.86 L329.44 206.13 L329.65 205.41 L329.87 204.71 L330.09 204.03 L330.31 203.35 L330.54 202.70 L330.78 202.05 L331.02 201.41 L331.31 200.67 L331.42 200.40 M332.63 197.77 L332.98 197.11 L333.34 196.47 L333.71 195.83 L334.10 195.20 L334.50 194.57 L334.91 193.93 L335.34 193.30 L335.77 192.67 L336.21 192.04 L336.67 191.41 L337.14 190.77 L337.62 190.15 M339.45 187.99 L339.97 187.46 L340.48 186.96 L341.00 186.50 L341.65 185.99 L342.30 185.54 L342.96 185.14 L343.63 184.78 L344.31 184.45 L345.00 184.14 L345.69 183.84 L346.40 183.54 L347.12 183.22 M349.96 181.88 L350.61 181.58 L351.28 181.29 L351.97 181.00 L352.69 180.72 L353.45 180.44 L354.25 180.17 L355.10 179.90 L355.73 179.72 L356.38 179.53 L357.05 179.35 L357.75 179.16 L358.46 178.98 M361.46 178.28 L362.24 178.12 L363.02 177.97 L363.80 177.82 L364.58 177.68 L365.36 177.55 L366.14 177.44 L366.89 177.33 L367.64 177.24 L368.40 177.16 L369.17 177.09 L369.96 177.02 L370.48 176.98 M373.39 176.81 L374.17 176.77 L374.95 176.74 L375.71 176.71 L376.46 176.68 L377.19 176.66 L377.89 176.63 L378.58 176.61 L379.37 176.58 L380.11 176.55 L380.76 176.52 L381.34 176.49 L381.89 176.47 L382.44 176.45 M385.28 176.49 L386.31 176.53 L387.54 176.58 L388.35 176.62 L388.90 176.64 L389.47 176.67 L390.07 176.70 L390.70 176.73 L391.35 176.77 L392.02 176.80 L392.71 176.84 L393.41 176.88 L394.14 176.92 L394.39 176.94 M397.46 177.11 L398.25 177.16 L399.06 177.21 L399.87 177.26 L400.69 177.31 L401.51 177.37 L402.34 177.42 L403.17 177.48 L404.00 177.53 L404.83 177.59 L405.66 177.65 L406.48 177.71 M409.46 177.93 L410.25 177.99 L411.03 178.05 L411.80 178.12 L412.55 178.18 L413.31 178.24 L414.09 178.31 L414.89 178.39 L415.71 178.47 L416.54 178.55 L417.38 178.63 L418.24 178.71 L418.52 178.74 M421.42 179.05 L422.29 179.14 L423.16 179.24 L424.03 179.33 L424.89 179.43 L425.75 179.52 L426.59 179.62 L427.42 179.71 L428.24 179.80 L429.04 179.89 L429.82 179.98 L430.33 180.04 M433.16 180.37 L433.80 180.44 L434.41 180.51 L434.98 180.57 L435.51 180.64 L436.01 180.69 L436.46 180.74 L436.87 180.79 L437.00 180.80" stroke="#ff0000"/>
<path d="M65.30 236.00 L65.30 235.25 L65.30 234.50 L65.30 233.75 L65.30 233.00 L65.30 232.25 L65.30 232.00 M65.30 229.00 L65.30 228.25 L65.30 227.50 L65.30 226.75 L65.30 226.00 L65.30 225.25 L65.30 224.50 M65.30 221.50 L65.30 220.75 L65.30 220.00 L65.30 219.25 L65.30 218.50 L65.30 217.75 L65.30 217.00 L65.30 216.25 L65.30 215.50 L65.30 214.75 L65.30 214.00 L65.30 213.25 L65.30 212.75 M65.30 209.50 L65.30 208.75 L65.30 208.00 L65.30 207.25 L65.30 206.50 L65.30 205.75 L65.30 205.25 M65.30 202.25 L65.30 201.50 L65.30 200.75 L65.30 200.00 L65.31 199.57 L65.32 199.03 L65.32 198.41 L65.33 197.70 L65.34 196.94 L65.35 196.12 L65.37 195.28 L65.38 194.41 L65.40 193.53 L65.40 193.24 M65.49 190.24 L65.52 189.47 L65.56 188.70 L65.60 187.93 L65.64 187.16 L65.68 186.41 L65.71 185.91 M65.93 182.95 L65.99 182.22 L66.05 181.49 L66.12 180.74 L66.19 179.97 L66.26 179.20 L66.32 178.43 L66.39 177.67 L66.46 176.91 L66.54 176.15 L66.64 175.40 L66.75 174.64 L66.83 174.14 M67.54 171.18 L67.76 170.43 L68.01 169.68 L68.27 168.93 L68.55 168.19 L68.83 167.46 L69.03 166.98 M70.29 164.30 L70.68 163.61 L71.11 162.92 L71.57 162.26 L72.05 161.64 L72.53 161.04 L73.02 160.47 L73.52 159.90 L74.00 159.34 L74.49 158.78 L74.97 158.19 L75.45 157.57 L75.61 157.36 M77.50 154.96 L78.01 154.40 L78.54 153.88 L79.10 153.40 L79.67 152.96 L80.23 152.56 L80.79 152.20 L80.98 152.09 M83.70 150.82 L84.58 150.51 L85.28 150.27 L85.88 150.08 L86.51 149.88 L87.17 149.68 L87.85 149.47 L88.56 149.27 L89.29 149.08 L90.04 148.88 L90.81 148.69 L91.59 148.51 L92.13 148.39 M95.15 147.82 L96.00 147.70 L96.68 147.61 L97.38 147.53 L98.10 147.46 L98.84 147.39 L99.59 147.33 M102.43 147.15 L103.22 147.11 L104.01 147.08 L104.80 147.05 L105.59 147.02 L106.37 147.00 L107.15 146.98 L107.92 146.96 L108.68 146.94 L109.43 146.92 L110.16 146.91 L110.92 146.89 L111.41 146.88 M114.33 146.84 L114.92 146.85 L115.51 146.85 L116.12 146.86 L116.77 146.88 L117.47 146.89 L118.23 146.92 L118.77 146.93 M122.07 147.05 L123.30 147.10 L123.84 147.12 L124.39 147.14 L124.97 147.17 L125.55 147.19 L126.15 147.21 L126.77 147.24 L127.40 147.26 L128.04 147.29 L128.70 147.32 L129.37 147.35 L130.05 147.37 L130.75 147.40 M133.63 147.53 L134.38 147.56 L135.13 147.60 L135.90 147.63 L136.67 147.67 L137.45 147.71 L137.97 147.73 M141.18 147.89 L142.00 147.93 L142.82 147.97 L143.64 148.01 L144.47 148.05 L145.31 148.10 L146.14 148.14 L146.98 148.18 L147.82 148.23 L148.67 148.28 L149.51 148.32 L150.07 148.35 M152.89 148.52 L153.74 148.57 L154.53 148.61 L155.20 148.65 L155.89 148.70 L156.58 148.74 L157.28 148.78 M160.36 148.98 L161.09 149.03 L161.82 149.07 L162.55 149.12 L163.29 149.17 L164.03 149.22 L164.77 149.27 L165.52 149.32 L166.27 149.37 L167.03 149.42 L167.79 149.47 L168.55 149.52 L169.31 149.57 M172.38 149.79 L173.15 149.84 L173.92 149.90 L174.69 149.95 L175.47 150.00 L176.24 150.06 L176.50 150.08 M179.60 150.30 L180.37 150.36 L181.14 150.41 L181.92 150.47 L182.69 150.53 L183.46 150.58 L184.22 150.64 L184.99 150.70 L185.75 150.75 L186.52 150.81 L187.28 150.87 L188.03 150.92 L188.54 150.96 M191.53 151.19 L192.27 151.24 L193.00 151.30 L193.76 151.36 L194.51 151.42 L195.25 151.48 L195.73 151.52 M198.78 151.78 L199.46 151.84 L200.13 151.90 L200.80 151.96 L201.47 152.02 L202.13 152.08 L202.79 152.14 L203.44 152.20 L204.10 152.26 L204.75 152.32 L205.40 152.38 L206.05 152.45 L206.70 152.51 L207.36 152.57 L207.80 152.61 M210.70 152.88 L211.38 152.95 L212.07 153.01 L212.77 153.07 L213.48 153.14 L214.20 153.20 L214.92 153.27 L215.17 153.29 M218.22 153.54 L219.02 153.61 L219.83 153.67 L220.66 153.74 L221.50 153.80 L222.37 153.87 L223.25 153.94 L224.15 154.00 L225.07 154.07 L226.01 154.13 L226.98 154.20 M230.00 154.40 L230.59 154.44 L231.19 154.48 L231.80 154.51 L232.42 154.55 L233.05 154.59 L233.68 154.63 L234.33 154.67 M237.46 154.86 L238.15 154.90 L238.85 154.94 L239.55 154.98 L240.27 155.02 L240.99 155.06 L241.71 155.10 L242.45 155.14 L243.18 155.18 L243.93 155.23 L244.68 155.27 L245.43 155.31 L246.19 155.35 M249.28 155.52 L250.07 155.56 L250.86 155.61 L251.65 155.65 L252.44 155.69 L253.24 155.73 L253.50 155.75 M256.73 155.92 L257.54 155.96 L258.35 156.01 L259.17 156.05 L259.98 156.09 L260.80 156.13 L261.62 156.18 L262.44 156.22 L263.26 156.26 L264.08 156.30 L264.90 156.35 L265.44 156.37 M268.45 156.53 L269.27 156.57 L270.08 156.61 L270.90 156.65 L271.71 156.69 L272.52 156.73 L272.79 156.75 M276.01 156.91 L276.81 156.95 L277.60 156.99 L278.40 157.03 L279.18 157.07 L279.97 157.11 L280.75 157.15 L281.52 157.19 L282.29 157.22 L283.06 157.26 L283.82 157.30 L284.57 157.34 L284.82 157.35 M287.78 157.50 L288.51 157.53 L289.23 157.57 L289.94 157.60 L290.64 157.64 L291.34 157.67 L292.03 157.70 M295.14 157.86 L295.79 157.89 L296.61 157.93 L297.52 157.97 L298.42 158.02 L299.32 158.06 L300.22 158.10 L301.11 158.14 L302.00 158.19 L302.89 158.23 L303.77 158.27 L304.06 158.28 M306.96 158.41 L307.82 158.45 L308.67 158.48 L309.52 158.52 L310.37 158.56 L311.21 158.59 L311.49 158.60 M314.52 158.73 L315.34 158.76 L316.14 158.80 L316.95 158.83 L317.74 158.86 L318.54 158.90 L319.32 158.93 L320.10 158.96 L320.88 158.99 L321.65 159.02 L322.41 159.05 L323.16 159.08 L323.41 159.09 M326.36 159.21 L327.09 159.24 L327.80 159.27 L328.51 159.30 L329.21 159.33 L329.90 159.36 L330.59 159.38 L330.82 159.39 M333.70 159.51 L334.34 159.54 L334.98 159.57 L335.61 159.60 L336.23 159.62 L336.84 159.65 L337.45 159.68 L338.05 159.71 L338.64 159.73 L339.22 159.76 L339.79 159.79 L340.36 159.82 L340.91 159.84 L341.46 159.87 L342.00 159.90 L342.42 159.92 M345.77 160.11 L346.75 160.17 L347.66 160.23 L348.52 160.29 L349.33 160.34 L350.09 160.40 M352.98 160.63 L353.59 160.68 L354.18 160.73 L354.76 160.78 L355.34 160.83 L355.93 160.88 L356.52 160.93 L357.13 160.98 L357.75 161.03 L358.40 161.08 L359.07 161.13 L359.78 161.18 L360.53 161.23 L361.32 161.28 L361.83 161.31 M364.83 161.50 L365.44 161.54 L366.05 161.58 L366.65 161.61 L367.25 161.65 L367.86 161.69 L368.46 161.72 L369.07 161.76 L369.28 161.77 M372.28 161.94 L372.97 161.98 L373.68 162.02 L374.41 162.06 L375.17 162.10 L375.95 162.14 L376.77 162.18 L377.61 162.22 L378.49 162.27 L379.41 162.31 L380.36 162.36 L381.02 162.39 M384.23 162.55 L385.40 162.60 L385.96 162.63 L386.54 162.65 L387.15 162.68 L387.77 162.71 L388.41 162.74 M391.66 162.88 L392.40 162.91 L393.16 162.95 L393.93 162.98 L394.71 163.02 L395.51 163.05 L396.32 163.08 L397.14 163.12 L397.97 163.16 L398.81 163.19 L399.66 163.23 L400.23 163.25 M403.43 163.39 L404.31 163.43 L405.20 163.47 L406.10 163.50 L406.99 163.54 L407.89 163.58 M410.89 163.71 L411.79 163.74 L412.69 163.78 L413.58 163.82 L414.47 163.86 L415.36 163.89 L416.24 163.93 L417.12 163.97 L417.99 164.00 L418.86 164.04 L419.71 164.08 M422.77 164.20 L423.59 164.24 L424.38 164.27 L425.17 164.30 L425.94 164.34 L426.70 164.37 L426.95 164.38 M430.04 164.51 L430.70 164.54 L431.35 164.56 L431.98 164.59 L432.58 164.61 L433.17 164.64 L433.73 164.66 L434.27 164.68 L434.79 164.71 L435.28 164.73 L435.75 164.75 L436.19 164.77 L436.61 164.78 L437.00 164.80" stroke="#00ff00"/>
</g>
<g fill="none" stroke-width="1" stroke="#000" shape-rendering="crispEdges">
<path d="M435.5 1V230" stroke-opacity="0.42"/>
<path d="M66 1.5H436" stroke-opacity="0.27"/>
<path d="M67 2.5H435" stroke-opacity="0.11"/>
<path d="M66 229.5H436" stroke-opacity="0.37"/>
<path d="M66 230.5H436" stroke-opacity="0.14"/>
</g>
<path d="M83.50 229.50 v-2.40 M83.50 1.50 v2.40 M101.50 229.50 v-2.40 M101.50 1.50 v2.40 M120.50 229.50 v-2.40 M120.50 1.50 v2.40 M139.50 229.50 v-2.40 M139.50 1.50 v2.40 M157.50 229.50 v-3.90 M157.50 1.50 v3.90 M176.50 229.50 v-2.40 M176.50 1.50 v2.40 M194.50 229.50 v-2.40 M194.50 1.50 v2.40 M213.50 229.50 v-2.40 M213.50 1.50 v2.40 M231.50 229.50 v-2.40 M231.50 1.50 v2.40 M250.50 229.50 v-3.90 M250.50 1.50 v3.90 M268.50 229.50 v-2.40 M268.50 1.50 v2.40 M287.50 229.50 v-2.40 M287.50 1.50 v2.40 M305.50 229.50 v-2.40 M305.50 1.50 v2.40 M324.50 229.50 v-2.40 M324.50 1.50 v2.40 M342.50 229.50 v-3.90 M342.50 1.50 v3.90 M361.50 229.50 v-2.40 M361.50 1.50 v2.40 M379.50 229.50 v-2.40 M379.50 1.50 v2.40 M398.50 229.50 v-2.40 M398.50 1.50 v2.40 M417.50 229.50 v-2.40 M417.50 1.50 v2.40 M66.50 213.50 h1.50 M435.50 213.50 h-1.50 M66.50 204.50 h1.50 M435.50 204.50 h-1.50 M66.50 197.50 h1.50 M435.50 197.50 h-1.50 M66.50 192.50 h1.50 M435.50 192.50 h-1.50 M66.50 188.50 h1.50 M435.50 188.50 h-1.50 M66.50 184.50 h1.50 M435.50 184.50 h-1.50 M66.50 181.50 h1.50 M435.50 181.50 h-1.50 M66.50 178.50 h1.50 M435.50 178.50 h-1.50 M66.50 176.50 h3.90 M435.50 176.50 h-3.90 M66.50 160.50 h1.50 M435.50 160.50 h-1.50 M66.50 151.50 h1.50 M435.50 151.50 h-1.50 M66.50 144.50 h1.50 M435.50 144.50 h-1.50 M66.50 139.50 h1.50 M435.50 139.50 h-1.50 M66.50 135.50 h1.50 M435.50 135.50 h-1.50 M66.50 131.50 h1.50 M435.50 131.50 h-1.50 M66.50 128.50 h1.50 M435.50 128.50 h-1.50 M66.50 125.50 h1.50 M435.50 125.50 h-1.50 M66.50 123.50 h3.90 M435.50 123.50 h-3.90 M66.50 107.50 h1.50 M435.50 107.50 h-1.50 M66.50 98.50 h1.50 M435.50 98.50 h-1.50 M66.50 91.50 h1.50 M435.50 91.50 h-1.50 M66.50 86.50 h1.50 M435.50 86.50 h-1.50 M66.50 82.50 h1.50 M435.50 82.50 h-1.50 M66.50 78.50 h1.50 M435.50 78.50 h-1.50 M66.50 75.50 h1.50 M435.50 75.50 h-1.50 M66.50 72.50 h1.50 M435.50 72.50 h-1.50 M66.50 70.50 h3.90 M435.50 70.50 h-3.90 M66.50 54.50 h1.50 M435.50 54.50 h-1.50 M66.50 45.50 h1.50 M435.50 45.50 h-1.50 M66.50 38.50 h1.50 M435.50 38.50 h-1.50 M66.50 33.50 h1.50 M435.50 33.50 h-1.50 M66.50 29.50 h1.50 M435.50 29.50 h-1.50 M66.50 25.50 h1.50 M435.50 25.50 h-1.50 M66.50 22.50 h1.50 M435.50 22.50 h-1.50 M66.50 19.50 h1.50 M435.50 19.50 h-1.50 M66.50 17.50 h3.90 M435.50 17.50 h-3.90" fill="none" stroke="#000" stroke-opacity="0.45" stroke-width="1"/>
<mask id="t" maskUnits="userSpaceOnUse" x="0" y="0" width="448" height="278">
<text transform="translate(24.90,21.40) scale(0.05000,0.05200)" font-size="326.00" text-anchor="start">0.001</text>
<text transform="translate(32.30,236.20) scale(0.05000,0.05200)" font-size="326.00" text-anchor="start">10</text><text transform="translate(48.20,230.50) scale(0.05650,0.05400)" font-size="220.00" text-anchor="start">−7</text><text transform="translate(32.30,183.20) scale(0.05000,0.05200)" font-size="326.00" text-anchor="start">10</text><text transform="translate(48.20,177.50) scale(0.05650,0.05400)" font-size="220.00" text-anchor="start">−6</text><text transform="translate(32.30,130.20) scale(0.05000,0.05200)" font-size="326.00" text-anchor="start">10</text><text transform="translate(48.20,124.50) scale(0.05650,0.05400)" font-size="220.00" text-anchor="start">−5</text><text transform="translate(32.30,77.20) scale(0.05000,0.05200)" font-size="326.00" text-anchor="start">10</text><text transform="translate(48.20,71.50) scale(0.05650,0.05400)" font-size="220.00" text-anchor="start">−4</text>
<text transform="translate(157.90,249.70) scale(0.05000,0.05200)" font-size="326.00" text-anchor="middle">50</text>
<text transform="translate(250.70,245.50) scale(0.05000,0.05200)" font-size="326.00" text-anchor="middle">100</text>
<text transform="translate(343.40,249.70) scale(0.05000,0.05200)" font-size="326.00" text-anchor="middle">150</text>
<text transform="translate(435.60,245.20) scale(0.05000,0.05200)" font-size="326.00" text-anchor="middle">200</text>
<text transform="translate(10.40,116.20) rotate(-90) scale(0.05200,0.05000)" font-size="326.00" text-anchor="middle">Dipole</text>
</mask>
<rect x="0" y="0" width="448" height="278" fill="#000" mask="url(#t)"/>
</svg>
</body></html>
